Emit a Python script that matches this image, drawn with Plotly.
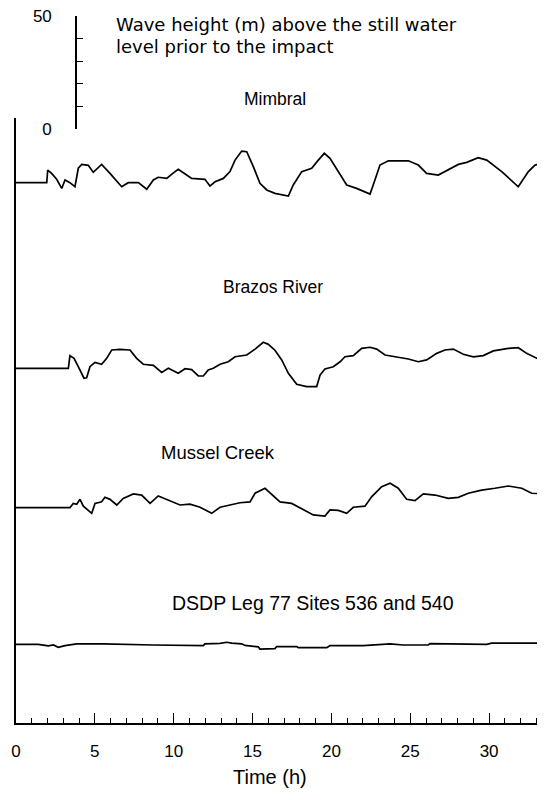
import plotly.graph_objects as go

# ---- data (time in hours, wave height in metres above still water) ----
mimbral_t = [0, 1.95, 2.01, 2.26, 2.58, 2.90, 3.11, 3.30, 3.42, 3.74, 3.95, 4.17, 4.58, 4.90, 5.16, 5.43,
             5.96, 6.39, 6.70, 7.12, 7.76, 8.29, 8.71, 9.02, 9.56, 9.94, 10.29, 10.61, 11.14, 11.98,
             12.30, 12.62, 13.15, 13.57, 13.89, 14.31, 14.63, 15.05, 15.47, 15.90, 16.32, 16.42,
             17.27, 17.58, 18.12, 18.75, 19.17, 19.55, 19.91, 20.44, 20.97, 21.60, 22.45, 22.76,
             23.08, 23.61, 24.88, 25.51, 26.04, 26.78, 27.41, 28.05, 28.58, 29.31, 29.85, 30.80,
             31.85, 32.49, 32.91, 33.54]
mimbral_h = [0, 0, 5.6, 4.1, 1.5, -2.5, 1.2, 0.6, 0.0, -1.8, 6.4, 8.1, 7.7, 4.6, 6.4, 8.1,
             4.1, 0.4, -1.8, 0.0, 0.0, -2.9, 1.2, 2.4, 1.9, 4.1, 5.9, 4.4, 1.9, 1.5,
             -1.5, 0.4, 1.9, 4.9, 10.0, 14.0, 13.7, 7.1, -0.3, -3.2, -4.7, -4.7,
             -5.9, -1.0, 4.9, 6.4, 10.0, 13.0, 10.8, 4.9, -1.0, -2.5, -5.0, 1.2,
             7.8, 9.7, 9.7, 7.8, 4.1, 3.4, 5.6, 8.1, 9.0, 11.1, 10.0, 4.9,
             -1.8, 4.9, 7.8, 8.6]

brazos_px = [16, 68.3, 70, 74, 78.3, 84, 86.7, 90, 95, 101.7, 106.7, 111.7, 120, 130, 136.7, 143.3,
             153.3, 161.7, 168.3, 178.3, 185, 191.7, 198.3, 203.3, 208.3, 213.3, 220, 228.3, 235,
             246.7, 255, 263.3, 268.3, 275, 281.7, 288.3, 296.7, 306.7, 316.7, 320, 325, 333.3,
             340, 345, 353.3, 361.7, 370, 376.7, 385, 395, 408.3, 418.3, 426.7, 436.7, 445,
             453.3, 463.3, 473.3, 483.3, 493.3, 508.3, 518.3, 526.7, 538.3, 545]
brazos_h = [0, 0, 5.6, 4.4, 0.7, -4.4, -4.2, 0.7, 2.6, 1.8, 4.4, 8.1, 8.4, 8.1, 4.4, 1.8,
            1.3, -1.8, 0.0, -2.2, -0.2, -0.6, -3.4, -3.4, -0.7, 0.0, 1.8, 2.9, 5.1,
            5.9, 8.5, 11.5, 10.6, 8.0, 3.7, -2.2, -7.1, -8.1, -8.1, -3.0, -0.3, 0.7,
            2.9, 5.1, 5.6, 8.8, 9.3, 8.5, 5.9, 5.1, 4.1, 2.9, 3.7, 6.6, 8.1,
            8.5, 6.2, 5.1, 5.6, 7.7, 8.8, 9.1, 6.6, 4.1, 2.9]

mussel_px = [16, 70, 73.3, 76.7, 80, 83.3, 91.7, 95, 101.7, 105, 110, 116.7, 123.3, 133.3, 141.7,
             150, 158.3, 168.3, 180, 190, 200, 211.7, 220, 230, 240, 250, 255, 265, 273.3,
             280, 291.7, 303.3, 313.3, 325, 330, 338.3, 346.7, 353.3, 365, 371.7, 381.7, 390,
             398.3, 406.7, 415, 423.3, 435, 448.3, 458.3, 468.3, 481.7, 495, 508.3, 521.7,
             531.7, 545]
mussel_h = [0, 0, 1.9, 1.5, 3.7, 0.7, -2.5, 1.9, 2.6, 4.6, 3.7, 1.2, 4.1, 6.1, 5.6,
            1.9, 5.2, 3.4, 1.2, 1.6, 0.2, -2.5, 0.2, 1.2, 2.2, 2.6, 6.4, 8.6, 5.2,
            2.6, 1.9, -0.7, -3.2, -3.7, -1.0, -1.2, -2.5, 0.2, 0.7, 4.9, 9.3, 10.8,
            8.6, 3.7, 3.1, 6.1, 5.6, 4.1, 4.6, 6.4, 7.8, 8.6, 9.6, 8.6,
            6.4, 6.1]

dsdp_px = [16, 38.3, 48.3, 53.3, 58.3, 65, 76.7, 103.3, 153.3, 203.3, 205, 220, 226.7, 231.7,
           241.7, 245, 258.3, 260, 275, 276.7, 296.7, 298.3, 326.7, 330, 363.3, 390, 403.3,
           428.3, 430, 486.7, 491.7, 545]
dsdp_h = [0, 0, -0.7, -0.3, -1.3, -0.6, 0.2, 0.2, -0.3, -0.6, 0.2, 0.4, 0.9, 0.5,
          0.2, -0.5, -1.1, -2.1, -1.9, -1.0, -1.0, -1.5, -1.5, -0.6, -0.6, 0.2, -0.3,
          -0.3, 0.3, 0.0, 0.5, 0.5]

site_names = ["Mimbral", "Brazos River", "Mussel Creek", "DSDP Leg 77 Sites 536 and 540"]
x_ticks = [0, 5, 10, 15, 20, 25, 30]
scale_ticks = [0, 50]

# ---- layout geometry (page pixels; the page body adds an 8 px margin) ----
BODY = 8
PAGE_W, PAGE_H = 545, 800
W, H = PAGE_W - BODY, PAGE_H - BODY   # figure fits inside the viewport
PLOT_L, PLOT_R = 16, 545        # page x of plot area
AX_BOTTOM = 723                 # page y of time axis
MAIN_TOP = 118
SCALE_TOP, SCALE_BOTTOM = 16, 129
PX_PER_H = 15.77
PX_PER_M = 2.26

ML = PLOT_L - BODY
MR = W - (PLOT_R - BODY)
MT = SCALE_TOP - BODY
MB = H - (AX_BOTTOM - BODY)
plot_h = H - MT - MB
plot_w = W - ML - MR


def px_to_t(p):
    return round((p - PLOT_L) / PX_PER_H, 2)


brazos_t = [px_to_t(p) for p in brazos_px]
mussel_t = [px_to_t(p) for p in mussel_px]
dsdp_t = [px_to_t(p) for p in dsdp_px]

# baseline offsets (m above bottom of axis)
baseline_px = [182.7, 368.3, 507.7, 644.3]
offsets = [(AX_BOTTOM - b) / PX_PER_M for b in baseline_px]

series = [(mimbral_t, mimbral_h), (brazos_t, brazos_h), (mussel_t, mussel_h), (dsdp_t, dsdp_h)]

fig = go.Figure()
for (t, h), off, name in zip(series, offsets, site_names):
    fig.add_trace(go.Scatter(x=t, y=[v + off for v in h], mode="lines", name=name,
                             line=dict(color="black", width=1.7), showlegend=False,
                             hoverinfo="skip", cliponaxis=False))
# empty trace to bind the scale-bar axis
fig.add_trace(go.Scatter(x=[], y=[], yaxis="y2", showlegend=False))

y_range_max = (AX_BOTTOM - MAIN_TOP) / PX_PER_M
x_range_max = plot_w / PX_PER_H

font = "Liberation Sans, Arial, sans-serif"
wide_font = "DejaVu Sans, Verdana, sans-serif"

fig.update_layout(
    width=W, height=H,
    margin=dict(l=ML, r=MR, t=MT, b=MB, autoexpand=False),
    paper_bgcolor="white", plot_bgcolor="white",
    font=dict(family=font, size=17, color="black"),
    xaxis=dict(range=[0, x_range_max], tickmode="array", tickvals=x_ticks,
               ticks="inside", ticklen=10, tickwidth=1.3, tickcolor="black",
               minor=dict(dtick=1, tick0=0, ticks="inside", ticklen=5, tickwidth=1.3, tickcolor="black"),
               showline=True, linecolor="black", linewidth=1.6, showgrid=False, zeroline=False,
               ticklabelstandoff=12, tickfont=dict(size=17), automargin=False,
               ticklabeloverflow="allow"),
    yaxis=dict(domain=[0, (AX_BOTTOM - MAIN_TOP) / plot_h], range=[0, y_range_max],
               showline=True, linecolor="black", linewidth=1.6, showgrid=False, zeroline=False,
               ticks="", showticklabels=False, automargin=False),
    yaxis2=dict(domain=[(AX_BOTTOM - SCALE_BOTTOM) / plot_h, 1.0], range=[0, 50],
                anchor="free", position=(76 - PLOT_L) / plot_w, side="left",
                tickmode="array", tickvals=scale_ticks, ticktext=[str(v) for v in scale_ticks],
                ticks="inside", ticklen=11, tickwidth=1.3, tickcolor="black",
                minor=dict(dtick=10, tick0=0, ticks="inside", ticklen=6, tickwidth=1.3, tickcolor="black"),
                showline=True, linecolor="black", linewidth=1.6, showgrid=False, zeroline=False,
                ticklabelstandoff=20, tickfont=dict(size=17), automargin=False,
                ticklabeloverflow="allow"),
)


def ann(text, xpx, ypx, xanchor="center", size=18, family=font):
    fig.add_annotation(text=text, xref="paper", yref="paper",
                       x=(xpx - PLOT_L) / plot_w, y=(AX_BOTTOM - ypx) / plot_h,
                       xanchor=xanchor, yanchor="middle", showarrow=False,
                       font=dict(family=family, size=size, color="black"))


ann("Wave height (m) above the still water", 114, 25, "left", 18, wide_font)
ann("level prior to the impact", 114, 47, "left", 18, wide_font)
ann(site_names[0], 275, 99, size=17.5)
ann(site_names[1], 273, 287, size=17.5)
ann(site_names[2], 218, 452, size=18.5)
ann(site_names[3], 313, 603, size=19.5)
ann("Time (h)", 270, 777, size=20)

fig.write_html("out.html")
